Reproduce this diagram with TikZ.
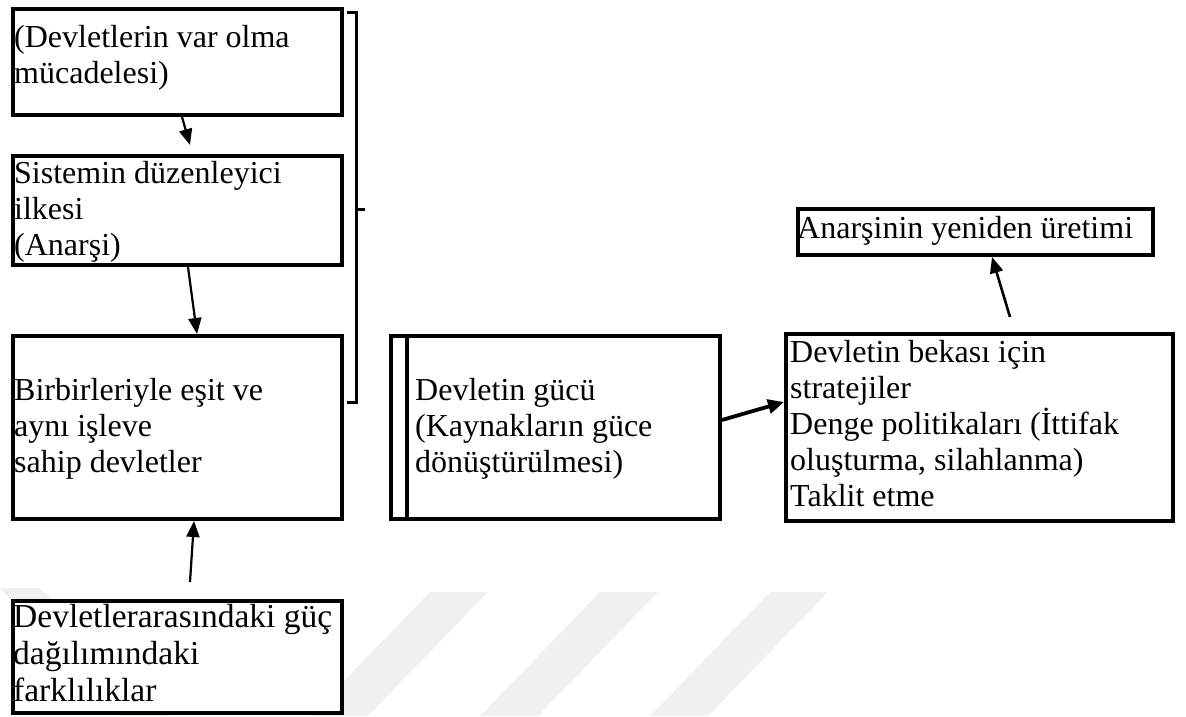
\documentclass[tikz,border=0pt]{standalone}
\usepackage{fontspec}
\setmainfont{Liberation Serif}
\usetikzlibrary{arrows.meta,calc}
\begin{document}
\begin{tikzpicture}[x=1pt,y=-1pt,
  box/.style={draw, line width=4pt, fill=white, inner sep=0pt, anchor=north west},
  txt/.style={anchor=north west, inner sep=0pt, align=left, font=\fontsize{32}{36}\selectfont},
  thinarr/.style={line width=2.2pt, -{Triangle[length=16pt,width=13pt]}},
  thickarr/.style={line width=3.8pt, -{Triangle[length=16pt,width=14pt]}},
  brk/.style={line width=3pt},
  wm/.style={draw=none, fill=black!6}
]
\useasboundingbox (0,0) rectangle (1186,716);
\fill[white] (0,0) rectangle (1186,716);
% faint watermark stripes
\fill[wm] (0,588) -- (40,588) -- (170,716) -- (120,716) -- cycle;
\fill[wm] (430,592) -- (488,592) -- (368,716) -- (310,716) -- cycle;
\fill[wm] (600,592) -- (658,592) -- (538,716) -- (480,716) -- cycle;
\fill[wm] (770,592) -- (828,592) -- (708,716) -- (650,716) -- cycle;

% left column
\node[box, minimum width=329pt, minimum height=106pt] (b1) at (11,7) {};
\node[txt] (t1) at (14,21.8) {\strut(Devletlerin var olma\\mücadelesi)};

\node[box, minimum width=329pt, minimum height=109pt] (b2) at (11,154) {};
\node[txt] (t2) at (14,157.8) {\strut Sistemin düzenleyici\\ilkesi\\(Anarşi)};

\node[box, minimum width=329pt, minimum height=183pt] (b3) at (11,334) {};
\node[txt] (t3) at (14,374.8) {\strut Birbirleriyle eşit ve\\aynı işleve\\sahip devletler};

\node[box, minimum width=329pt, minimum height=112pt] (b4) at (11,599) {};
\node[txt, font=\fontsize{33.5}{37}\selectfont] (t4) at (13,601) {\strut Devletlerarasındaki güç\\dağılımındaki\\farklılıklar};

% bracket
\draw[brk] (347,12) -- (356,12) -- (356,402) -- (347,402);
\draw[brk] (356,209) -- (365,209);

% middle box
\node[box, minimum width=329pt, minimum height=183pt] (b5) at (389,334) {};
\draw[line width=4pt] ([xshift=18pt]b5.north west) -- ([xshift=18pt]b5.south west);
\node[txt] (t5) at (415,374.8) {\strut Devletin gücü\\(Kaynakların güce\\dönüştürülmesi)};

% right box
\node[box, minimum width=387pt, minimum height=187pt] (b6) at (784,332) {};
\node[txt] (t6) at (790,336.8) {\strut Devletin bekası için\\stratejiler\\Denge politikaları (İttifak\\oluşturma, silahlanma)\\Taklit etme};

% top right box
\node[box, minimum width=355pt, minimum height=46pt] (b7) at (796,207) {};
\node[txt] (t7) at (797,212.8) {\strut Anarşinin yeniden üretimi};

% arrows
\draw[thinarr] ([xshift=4.5pt]b1.south) -- ([xshift=12.5pt,yshift=9pt]b2.north);
\draw[thinarr] ([xshift=10.5pt]b2.south) -- ([xshift=19.5pt]b3.north);
\draw[thinarr] ([xshift=12.5pt,yshift=17pt]b4.north) -- ([xshift=16.5pt]b3.south);
\draw[thickarr] ([yshift=7.5pt]b5.east) -- ([yshift=25.5pt]b6.west);
\draw[line width=2.6pt, -{Triangle[length=16pt,width=13pt]}] ([xshift=30.5pt,yshift=15pt]b6.north) -- ([xshift=16.5pt]b7.south);
\end{tikzpicture}
\end{document}
